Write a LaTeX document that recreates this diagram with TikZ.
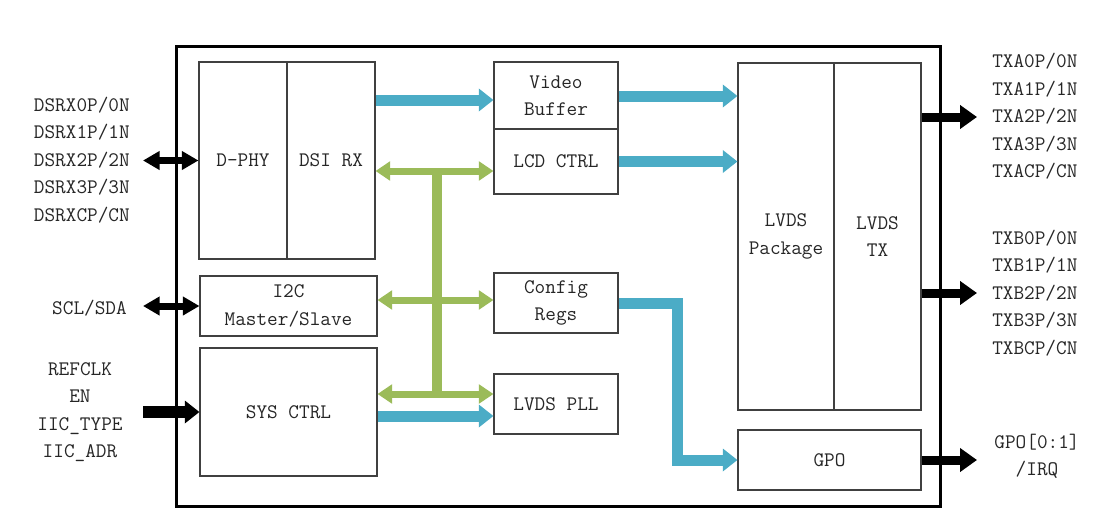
\documentclass[tikz,border=0pt]{standalone}
\usepackage{tikz}
\usetikzlibrary{arrows,arrows.meta}
\usetikzlibrary{calc}
\definecolor{datenblau}{RGB}{75,172,198}
\definecolor{busgruen}{RGB}{155,187,89}
\definecolor{rand}{RGB}{64,64,64}
\newcommand{\pxl}{0.75pt}

\begin{document}
\begin{tikzpicture}[x=0.75pt, y=-0.75pt,
    font=\ttfamily\fontsize{15.5}{20.6}\selectfont,
    block/.style={draw=rand, line width=0.8pt, inner sep=0pt, align=center, text=black!85},
    pin/.style={inner sep=0pt, text=black!85},
    daten/.style={datenblau, line width=8.25pt, -{Triangle[width=16.5pt,length=11pt]}},
    bus/.style={busgruen, line width=5.25pt, {Triangle[width=14pt,length=11pt]}-{Triangle[width=14pt,length=11pt]}},
    ein/.style={black, line width=5.25pt, {Triangle[width=13.5pt,length=12.5pt]}-{Triangle[width=13.5pt,length=12.5pt]}},
    takt/.style={black, line width=9pt, -{Triangle[width=16.5pt,length=11pt]}},
    aus/.style={black, line width=6.75pt, -{Triangle[width=17.25pt,length=12.75pt]}},
]
\useasboundingbox (0,0) rectangle (1107,525);

% Rahmen
\node[draw=black, line width=2.25pt, minimum width=764*\pxl, minimum height=460*\pxl] (chip) at (558,276) {};

% Bloecke
\node[block, minimum width=88*\pxl, minimum height=197*\pxl] (dphy) at (243,160.5) {D-PHY};
\node[block, minimum width=88*\pxl, minimum height=197*\pxl] (dsi) at (331,160.5) {DSI RX};
\node[block, minimum width=177*\pxl, minimum height=60*\pxl] (i2c) at (288.5,306) {I2C\\Master/Slave};
\node[block, minimum width=177*\pxl, minimum height=128*\pxl] (sys) at (288.5,412) {SYS CTRL};

\node[block, minimum width=124*\pxl, minimum height=67*\pxl] (vb) at (556,95.5) {Video\\Buffer};
\node[block, minimum width=124*\pxl, minimum height=65*\pxl] (lcd) at (556,161.5) {LCD CTRL};
\node[block, minimum width=124*\pxl, minimum height=60*\pxl] (cfg) at (556,303) {Config\\Regs};
\node[block, minimum width=124*\pxl, minimum height=60*\pxl] (pll) at (556,404) {LVDS PLL};

\node[block, minimum width=96*\pxl, minimum height=347*\pxl] (pkg) at (786,236.5) {LVDS\\Package};
\node[block, minimum width=87*\pxl, minimum height=347*\pxl] (ltx) at (877.5,236.5) {LVDS\\TX};
\node[block, minimum width=183*\pxl, minimum height=60*\pxl] (gpo) at (829.5,460) {GPO};

% Anschluesse
\node[pin, align=right, anchor=east] (dsrx) at (130,160) {DSRX0P/0N\\DSRX1P/1N\\DSRX2P/2N\\DSRX3P/3N\\DSRXCP/CN};
\node[pin, anchor=east] (scl) at (127,308) {SCL/SDA};
\node[pin, align=center] (refclk) at (80,412) {REFCLK\\EN\\IIC\_TYPE\\IIC\_ADR};
\node[pin, align=left, anchor=west] (txa) at (992,116.5) {TXA0P/0N\\TXA1P/1N\\TXA2P/2N\\TXA3P/3N\\TXACP/CN};
\node[pin, align=left, anchor=west] (txb) at (992,293) {TXB0P/0N\\TXB1P/1N\\TXB2P/2N\\TXB3P/3N\\TXBCP/CN};
\node[pin, align=center] (gpoaus) at (1037,456.5) {GPO[0:1]\\/IRQ};

\coordinate (dsrxin) at (143,160.5);
\coordinate (sclin) at (143,306);
\coordinate (refin) at (143,412);
\coordinate (txaout) at (977,117);
\coordinate (txbout) at (977,293);
\coordinate (gpout) at (977,460);

% Pfeile aussen
\draw[ein] (dsrxin) -- (dphy.west);
\draw[ein] (sclin) -- (i2c.west);
\draw[takt] (refin) -- (sys.west);
\draw[aus] (ltx.east |- txaout) -- (txaout);
\draw[aus] (ltx.east |- txbout) -- (txbout);
\draw[aus] (gpo.east) -- (gpout);

% Datenpfade
\draw[daten] (dsi.east |- 0,100) -- (vb.west |- 0,100);
\draw[daten] (vb.east |- 0,96) -- (pkg.west |- 0,96);
\draw[daten] (lcd.east) -- (pkg.west |- lcd.east);
\draw[daten] (sys.east |- 0,416) -- (pll.west |- 0,416);
\coordinate (knick) at (677,460);
\draw[daten] (cfg.east) -| (knick) -- (gpo.west);

% Bus
\coordinate (bustop) at (437,171);
\coordinate (busbot) at (437,394);
\draw[busgruen, line width=7.5pt] (bustop) -- (busbot);
\draw[bus] (dsi.east |- bustop) -- (lcd.west |- bustop);
\draw[bus] (i2c.east |- 0,300) -- (cfg.west |- 0,300);
\draw[bus] (sys.east |- busbot) -- (pll.west |- busbot);

\end{tikzpicture}
\end{document}
